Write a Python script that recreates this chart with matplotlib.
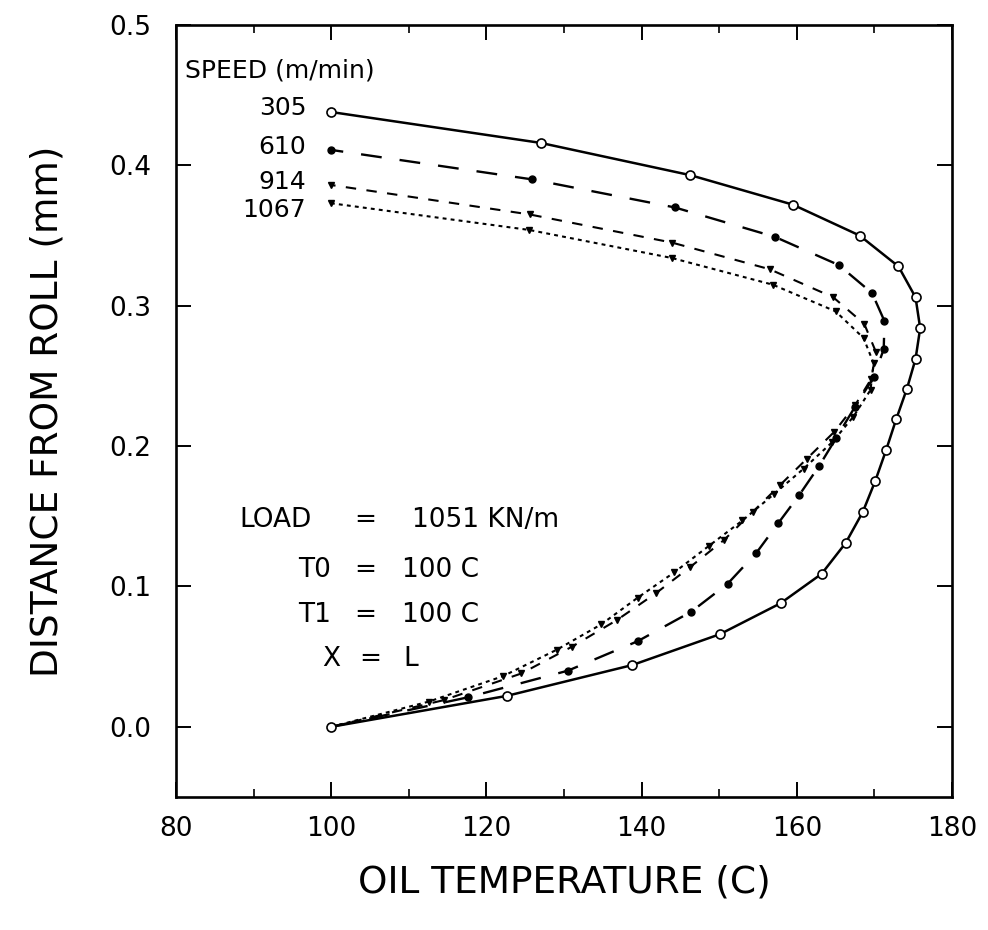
import matplotlib
matplotlib.use("Agg")
import matplotlib.pyplot as plt
from matplotlib.ticker import MultipleLocator, FormatStrFormatter

plt.rcParams['font.family'] = ['DejaVu Sans']
plt.rcParams['lines.scale_dashes'] = False

# ---- data ----
temp_305 = [100.0, 122.6, 138.8, 150.1, 157.9, 163.2, 166.3, 168.5, 170.1, 171.5, 172.8,
            174.2, 175.3, 175.9, 175.3, 173.1, 168.1, 159.5, 146.3, 127.0, 100.0]
dist_305 = [0.000, 0.022, 0.044, 0.066, 0.088, 0.109, 0.131, 0.153, 0.175, 0.197, 0.219,
            0.241, 0.262, 0.284, 0.306, 0.328, 0.350, 0.372, 0.393, 0.416, 0.438]

temp_610 = [100.0, 117.6, 130.5, 139.5, 146.4, 151.1, 154.8, 157.6, 160.3, 162.9, 165.1,
            167.5, 169.9, 171.2, 171.3, 169.7, 165.4, 157.2, 144.3, 125.9, 100.0]
dist_610 = [0.000, 0.021, 0.040, 0.061, 0.082, 0.102, 0.124, 0.145, 0.165, 0.186, 0.206,
            0.228, 0.249, 0.269, 0.289, 0.309, 0.329, 0.349, 0.370, 0.390, 0.411]

temp_914 = [100.0, 114.5, 124.5, 131.0, 136.8, 141.8, 146.3, 150.6, 154.3, 157.8, 161.3,
            164.8, 167.5, 169.6, 170.2, 168.7, 164.7, 156.5, 143.9, 125.6, 100.0]
dist_914 = [0.000, 0.019, 0.038, 0.057, 0.076, 0.095, 0.114, 0.133, 0.153, 0.172, 0.191,
            0.210, 0.229, 0.248, 0.267, 0.287, 0.306, 0.326, 0.345, 0.365, 0.386]

temp_1067 = [100.0, 112.6, 122.1, 129.1, 134.8, 139.5, 144.2, 148.7, 153.0, 157.1, 160.9,
             164.6, 167.3, 169.5, 169.9, 168.6, 165.0, 156.9, 143.9, 125.5, 100.0]
dist_1067 = [0.000, 0.018, 0.036, 0.055, 0.073, 0.092, 0.110, 0.129, 0.147, 0.166, 0.184,
             0.203, 0.221, 0.240, 0.259, 0.277, 0.296, 0.315, 0.334, 0.354, 0.373]

speed_labels = ["305", "610", "914", "1067"]
x_ticks = [80, 100, 120, 140, 160, 180]
y_ticks = [0.0, 0.1, 0.2, 0.3, 0.4, 0.5]

# ---- figure ----
fig = plt.figure(figsize=(9.88, 9.30), dpi=100)
ax = fig.add_axes([176 / 988, 133 / 930, 776 / 988, 772 / 930])

ax.plot(temp_305, dist_305, color='black', lw=1.8, ls='-', marker='o',
        ms=6.5, mfc='white', mec='black', mew=1.2, zorder=5)
ax.plot(temp_610, dist_610, color='black', lw=1.7, ls=(0, (15, 13)), marker='o',
        ms=5, mfc='black', mec='black', zorder=4)
ax.plot(temp_914, dist_914, color='black', lw=1.5, ls=(0, (7.5, 7.5)), marker='v',
        ms=4.5, mfc='black', mec='black', zorder=3)
ax.plot(temp_1067, dist_1067, color='black', lw=1.5, ls=(0, (2.8, 3.0)), marker='v',
        ms=4.5, mfc='black', mec='black', zorder=2)

ax.set_xlim(80, 180)
ax.set_ylim(-0.05, 0.5)
ax.xaxis.set_minor_locator(MultipleLocator(10))
ax.set_xticks(x_ticks)
ax.set_yticks(y_ticks)
ax.yaxis.set_major_formatter(FormatStrFormatter('%.1f'))

for s in ax.spines.values():
    s.set_linewidth(1.9)

ax.tick_params(axis='both', which='major', direction='in', length=11, width=1.4,
               top=True, right=True, labelsize=19)
ax.tick_params(axis='x', which='minor', direction='in', length=6, width=1.2, top=True)
ax.tick_params(axis='x', which='major', pad=14)
ax.tick_params(axis='y', which='major', pad=18)

ax.set_xlabel('OIL TEMPERATURE (C)', fontsize=27, labelpad=16)
ax.set_ylabel('DISTANCE FROM ROLL (mm)', fontsize=27, labelpad=31)

# speed legend
ax.text(81.2, 0.4676, 'SPEED (m/min)', fontsize=18, ha='left', va='center')
label_y = [0.441, 0.413, 0.388, 0.368]
for lab, yy in zip(speed_labels, label_y):
    ax.text(96.8, yy, lab, fontsize=18, ha='right', va='center')

# condition annotations
cond_names = ["LOAD", "T0", "T1", "X"]
cond_values = ["1051 KN/m", "100 C", "100 C", "L"]
cond_y = [0.147, 0.112, 0.080, 0.048]
name_x = [88.2, 95.7, 95.7, 98.9]
eq_x = [104.4, 104.4, 104.4, 105.0]
val_x = [110.4, 109.1, 109.1, 109.3]
for name, val, yy, nx, ex, vx in zip(cond_names, cond_values, cond_y, name_x, eq_x, val_x):
    ax.text(nx, yy, name, fontsize=19, ha='left', va='center')
    ax.text(ex, yy, "=", fontsize=19, ha='center', va='center')
    ax.text(vx, yy, val, fontsize=19, ha='left', va='center')

fig.savefig('out.png', dpi=100)
